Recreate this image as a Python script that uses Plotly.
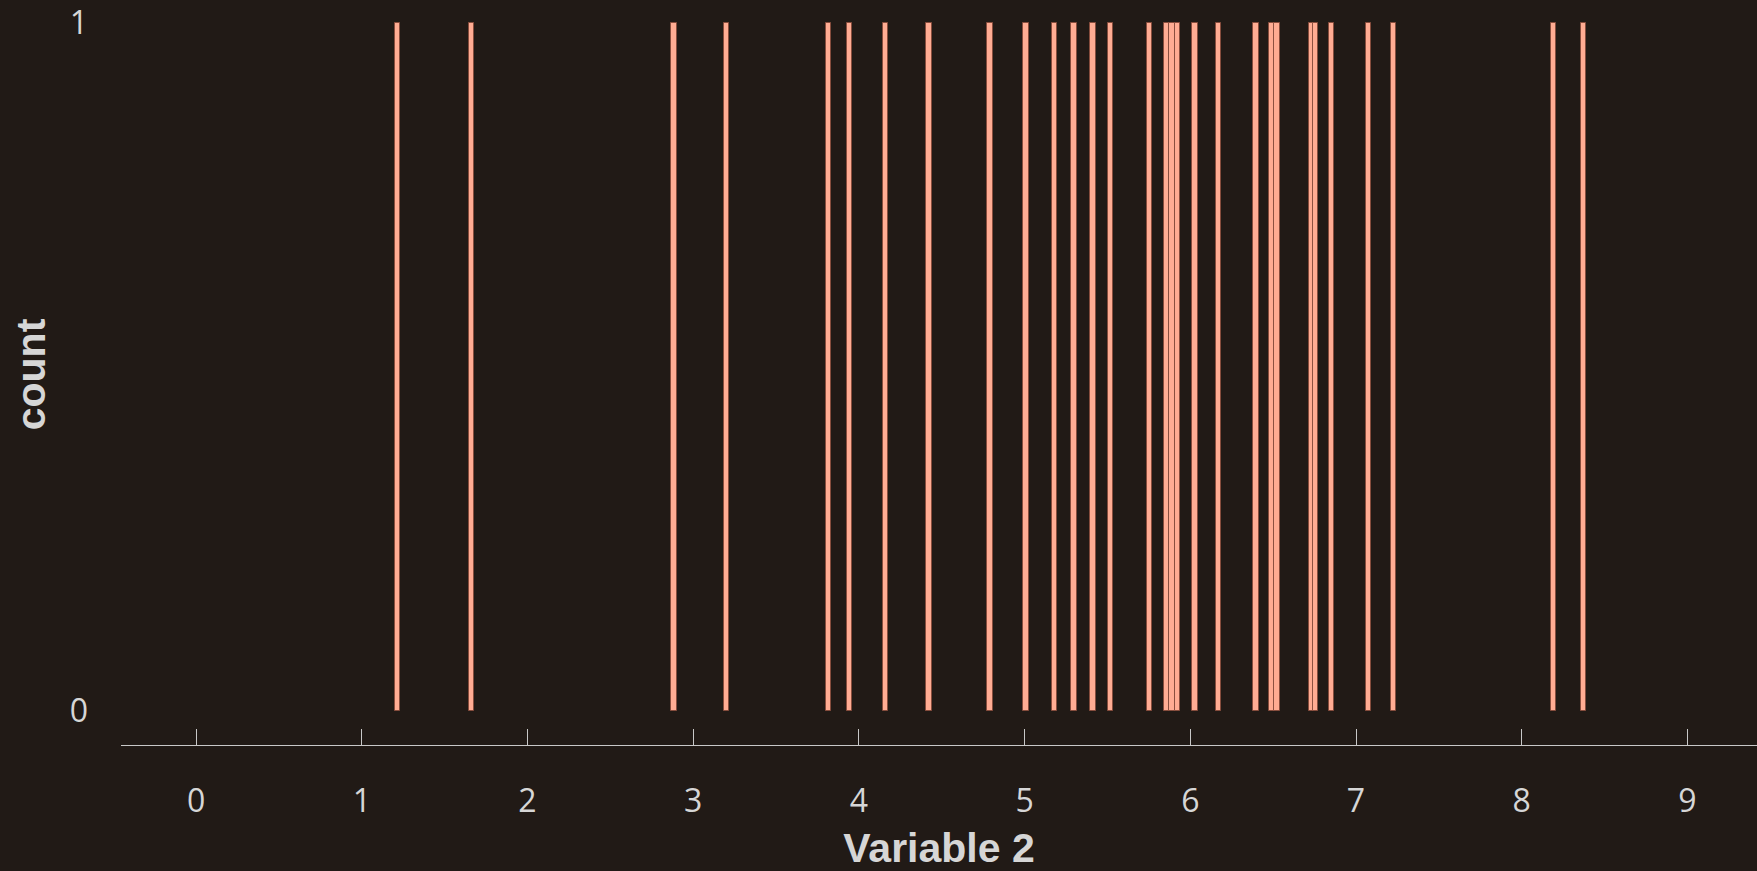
import plotly.graph_objects as go

# Values of "Variable 2" (each appears once -> count 1)
values = [1.217, 1.663, 2.884, 3.202, 3.818, 3.942, 4.162, 4.423, 4.791, 5.008,
          5.179, 5.298, 5.413, 5.517, 5.755, 5.858, 5.890, 5.922, 6.028, 6.169,
          6.397, 6.493, 6.523, 6.731, 6.756, 6.853, 7.077, 7.228, 8.191, 8.372]
counts = [1] * len(values)
x_ticks = [0, 1, 2, 3, 4, 5, 6, 7, 8, 9]
y_ticks = [0, 1]

BG = "#211a16"
TXT = "#d6d6d6"

fig = go.Figure()
fig.add_trace(go.Bar(
    x=values, y=counts, width=0.032,
    marker=dict(color="#ffac93", line=dict(color="rgba(135,76,60,0.95)", width=1)),
    showlegend=False,
))

fig.update_layout(
    width=1757, height=871,
    paper_bgcolor=BG, plot_bgcolor=BG,
    margin=dict(l=121, r=0, t=0, b=126),
    font=dict(family="Open Sans, Liberation Sans, Arial", color=TXT, size=32),
    bargap=0,
)
fig.update_xaxes(
    range=[-0.453, 9.42], tickvals=x_ticks, ticktext=[str(v) for v in x_ticks],
    showgrid=False, zeroline=False, showline=True, linecolor="#c8c8c8", linewidth=1,
    ticks="inside", ticklen=16, tickwidth=1, tickcolor="#c8c8c8",
    ticklabelstandoff=28, ticklabeloverflow="allow",
    tickfont=dict(size=32, color=TXT),
    title=dict(text="<b>Variable 2</b>", font=dict(family="Liberation Sans, Arial", size=41, color=TXT), standoff=21),
)
fig.update_yaxes(
    range=[-0.0495, 1.027], tickvals=y_ticks, ticktext=[str(v) for v in y_ticks],
    showgrid=False, zeroline=False, showline=False, ticks="",
    ticklabelstandoff=32, ticklabeloverflow="allow",
    tickfont=dict(size=32, color=TXT),
    title=dict(text="<b>count</b>", font=dict(family="Liberation Sans, Arial", size=41, color=TXT), standoff=11),
)

fig.write_html(
    "out.html",
    config={"displayModeBar": False},
    post_script="document.body.style.margin='0';document.body.style.background='#211a16';",
)
